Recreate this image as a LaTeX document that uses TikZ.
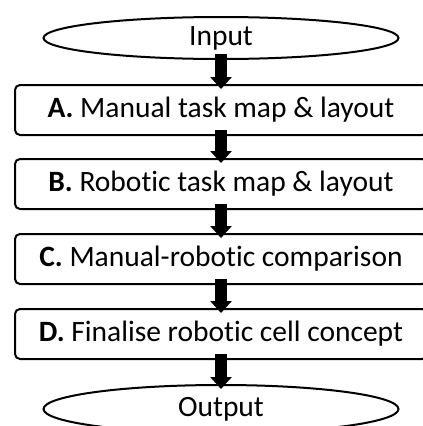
\documentclass[tikz,border=0pt]{standalone}
\usepackage{fontspec}
\setmainfont[Ligatures=NoCommon]{Carlito}
\usetikzlibrary{shapes.geometric,arrows.meta}

\tikzset{
  stepbox/.style={draw,line width=2pt,rounded corners=5pt,minimum width=412pt,minimum height=50pt,inner sep=0pt},
  terminal/.style={draw,ellipse,line width=2pt,minimum width=355pt,minimum height=42pt,inner sep=0pt},
  bigarrow/.style={line width=12pt,-{Triangle[width=21pt,length=12pt]}}
}

\begin{document}
\begin{tikzpicture}[x=1pt,y=-1pt,font=\fontsize{29.5}{34}\selectfont]
                \useasboundingbox (0,0) rectangle (423,426);
                \node[terminal] (in) at (221,38) {Input};
                \node[stepbox] (A) at (221,110) {\textbf{A.} Manual task map \& layout};
                \node[stepbox] (B) at (221,184) {\textbf{B.} Robotic task map \& layout};
                \node[stepbox] (C) at (221,259) {\textbf{C.} Manual-robotic comparison};
                \node[stepbox] (D) at (221,334) {\textbf{D.} Finalise robotic cell concept};
                \node[terminal,minimum height=48pt] (out) at (221,409) {Output};
                \draw[bigarrow] ([yshift=6pt]in.south) -- ([yshift=-5pt]A.north);
                \draw[bigarrow] ([yshift=6pt]A.south) -- ([yshift=-5pt]B.north);
                \draw[bigarrow] ([yshift=6pt]B.south) -- ([yshift=-5pt]C.north);
                \draw[bigarrow] ([yshift=6pt]C.south) -- ([yshift=-5pt]D.north);
                \draw[bigarrow] ([yshift=6pt]D.south) -- ([yshift=-5pt]out.north);
\end{tikzpicture}
\end{document}
